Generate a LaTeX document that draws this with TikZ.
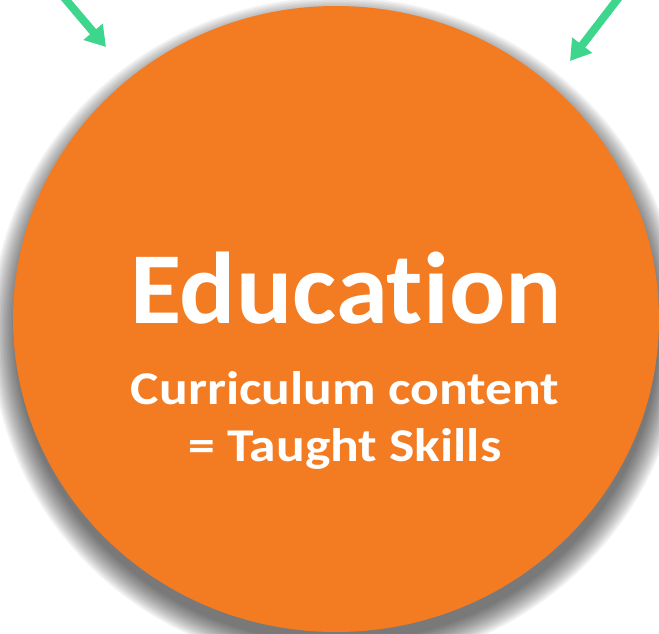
\documentclass[tikz,border=0pt]{standalone}
\usepackage{fontspec}
\setmainfont{Carlito}[Ligatures=NoCommon]
\usetikzlibrary{arrows.meta,shapes.geometric}
\definecolor{eduorange}{HTML}{F37B22}
\definecolor{arrowgreen}{HTML}{3DD68C}
\tikzset{
  flowarrow/.style={draw=arrowgreen, line width=8pt,
    -{Triangle[width=24pt,length=20pt]}},
  bigtitle/.style={text=white, font=\bfseries\fontsize{102}{110}\selectfont, anchor=base, inner sep=0pt, xscale=1.03},
  subtitle/.style={text=white, font=\bfseries\fontsize{47}{54}\selectfont, anchor=base, inner sep=0pt, xscale=1.14}
}
\begin{document}
\begin{tikzpicture}[x=1pt,y=-1pt]
\useasboundingbox (0,0) rectangle (659,634);
\clip (0,0) rectangle (659,634);
% soft shadow
\foreach \r in {24,22.5,...,0}{
  \fill[black,opacity=0.042] (337,332) ellipse [x radius=322+\r, y radius=311+\r];
}
\node[ellipse, fill=eduorange, minimum width=646pt, minimum height=626pt, inner sep=0pt, draw=none] (edu) at (336,319) {};
\node[bigtitle] (t1) at (346,323) {Education};
\node[subtitle] (t2) at (345,404) {Curriculum content};
\node[subtitle] (t3) at (345,461) {= Taught Skills};
\coordinate (la) at (45,-25);
\coordinate (lt) at (106,47);
\coordinate (ra) at (640,-30);
\coordinate (rt) at (570,61);
\draw[flowarrow] (la) -- (lt);
\draw[flowarrow] (ra) -- (rt);
\end{tikzpicture}
\end{document}
